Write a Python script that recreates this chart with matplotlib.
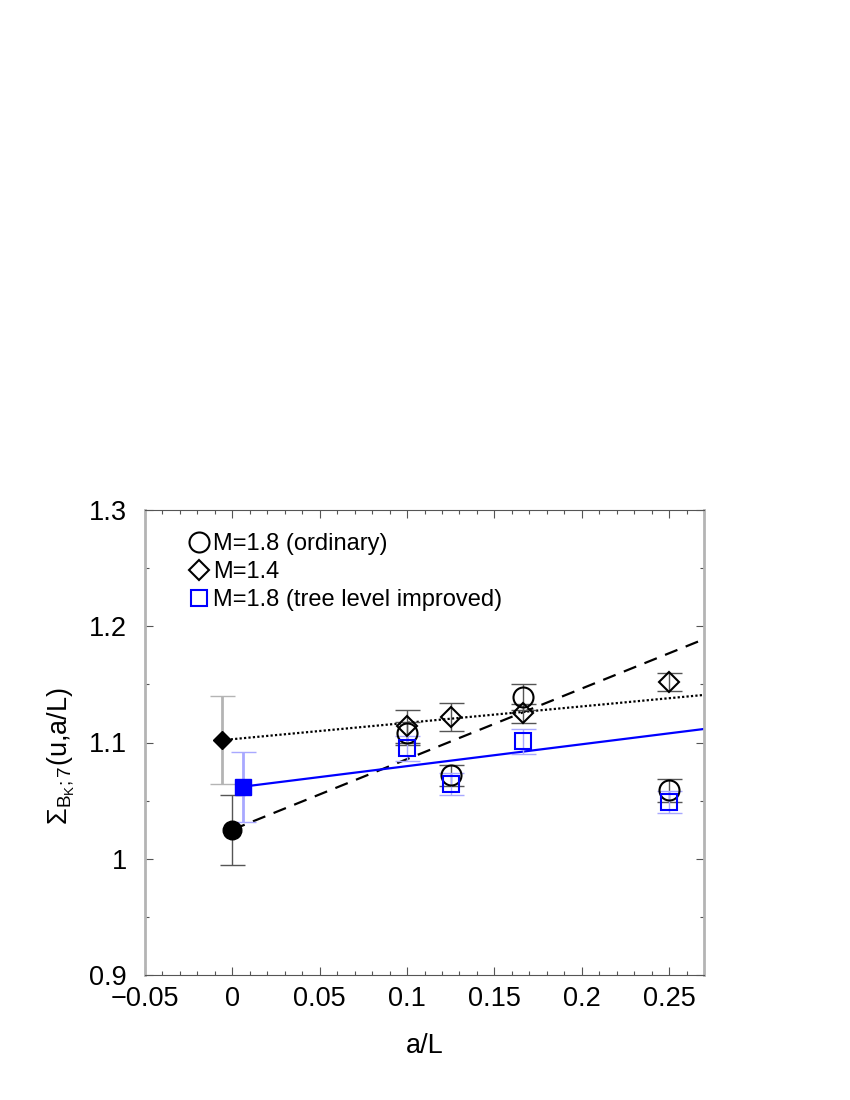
import numpy as np
import matplotlib
matplotlib.use("Agg")
import matplotlib.pyplot as plt
from matplotlib.ticker import MultipleLocator

plt.rcParams['font.family'] = ['Liberation Sans', 'DejaVu Sans']
plt.rcParams['mathtext.fontset'] = 'custom'
plt.rcParams['mathtext.rm'] = 'Liberation Sans'
plt.rcParams['mathtext.it'] = 'Liberation Sans'
plt.rcParams['mathtext.sf'] = 'Liberation Sans'

# data: a/L
x_data = [0.1, 0.125, 1/6, 0.25]

# M=1.8 (ordinary)
ord_y = [1.108, 1.072, 1.139, 1.059]
ord_err = [0.010, 0.009, 0.011, 0.010]
# M=1.4
m14_y = [1.114, 1.122, 1.125, 1.152]
m14_err = [0.014, 0.012, 0.008, 0.0075]
# M=1.8 (tree level improved)
tli_y = [1.095, 1.064, 1.101, 1.049]
tli_err = [0.0105, 0.0095, 0.011, 0.0095]

# continuum extrapolations (plotted with small horizontal offsets)
ext_x = {'ord': 0.0, 'm14': -0.006, 'tli': 0.006}
ext_y = {'ord': 1.025, 'm14': 1.102, 'tli': 1.062}
ext_err = {'ord': 0.030, 'm14': 0.038, 'tli': 0.030}
# fit slopes
fit_slope = {'ord': 0.607, 'm14': 0.141, 'tli': 0.188}

xmax = 0.27

fig = plt.figure(figsize=(8.5, 11), dpi=100)
ax = fig.add_axes([145/850, 1 - 975/1100, 559/850, 465/1100])

blue = '#0000ff'
lightblue = '#a8a8ff'
dgray = '#555555'
lgray = '#b4b4b4'

# fit lines
for key, ls, col, lw in [('ord', (0, (6, 4)), 'black', 1.6),
                         ('m14', (0, (1, 1)), 'black', 1.6),
                         ('tli', '-', blue, 1.6)]:
    xs = np.array([ext_x[key], xmax])
    ys = ext_y[key] + fit_slope[key] * (xs - ext_x[key])
    ax.plot(xs, ys, linestyle=ls, color=col, lw=lw, zorder=2)

cap = 9
# error bars for data
ax.errorbar(x_data, m14_y, yerr=m14_err, fmt='none', ecolor=dgray, elinewidth=1.0,
            capsize=cap, capthick=1.0, zorder=3)
ax.errorbar(x_data, ord_y, yerr=ord_err, fmt='none', ecolor=dgray, elinewidth=1.0,
            capsize=cap, capthick=1.0, zorder=3)
ax.errorbar(x_data, tli_y, yerr=tli_err, fmt='none', ecolor=lightblue, elinewidth=1.0,
            capsize=cap, capthick=1.0, zorder=3)

ax.plot(x_data, ord_y, 'o', ms=14.4, mfc='none', mec='black', mew=1.5, zorder=4,
        label='M=1.8 (ordinary)')
ax.plot(x_data, m14_y, 'D', ms=10, mfc='none', mec='black', mew=1.5, zorder=4,
        label='M=1.4')
ax.plot(x_data, tli_y, 's', ms=12, mfc='none', mec=blue, mew=1.5, zorder=4,
        label='M=1.8 (tree level improved)')

# extrapolated points
ax.errorbar([ext_x['m14']], [ext_y['m14']], yerr=[ext_err['m14']], fmt='none',
            ecolor=lgray, elinewidth=2.0, capsize=cap, capthick=1.0, zorder=3)
ax.errorbar([ext_x['ord']], [ext_y['ord']], yerr=[ext_err['ord']], fmt='none',
            ecolor=dgray, elinewidth=1.0, capsize=cap, capthick=1.0, zorder=3)
ax.errorbar([ext_x['tli']], [ext_y['tli']], yerr=[ext_err['tli']], fmt='none',
            ecolor=lightblue, elinewidth=2.0, capsize=cap, capthick=1.0, zorder=3)
ax.plot([ext_x['m14']], [ext_y['m14']], 'D', ms=9.5, color='black', zorder=5)
ax.plot([ext_x['ord']], [ext_y['ord']], 'o', ms=13.4, color='black', zorder=5)
ax.plot([ext_x['tli']], [ext_y['tli']], 's', ms=11.5, color=blue, zorder=5)

ax.set_xlim(-0.05, xmax)
ax.set_ylim(0.9, 1.3)
ax.xaxis.set_major_locator(MultipleLocator(0.05))
ax.xaxis.set_minor_locator(MultipleLocator(0.01))
ax.yaxis.set_major_locator(MultipleLocator(0.1))
ax.yaxis.set_minor_locator(MultipleLocator(0.05))
ax.set_xticks([-0.05, 0, 0.05, 0.1, 0.15, 0.2, 0.25])
ax.set_xticklabels(['\u22120.05', '0', '0.05', '0.1', '0.15', '0.2', '0.25'])
ax.set_yticks([0.9, 1.0, 1.1, 1.2, 1.3])
ax.set_yticklabels(['0.9', '1', '1.1', '1.2', '1.3'])
ax.tick_params(which='both', direction='in', top=True, right=True, labelsize=19.5,
               color=dgray)
ax.tick_params(axis='x', which='both', pad=8)
ax.tick_params(axis='y', which='both', pad=13)
ax.tick_params(which='major', length=6, width=0.8)
ax.tick_params(which='minor', length=3, width=0.8)
ax.spines['left'].set_color(lgray)
ax.spines['right'].set_color(lgray)
ax.spines['left'].set_linewidth(2)
ax.spines['right'].set_linewidth(2)
ax.spines['top'].set_color(dgray)
ax.spines['bottom'].set_color(dgray)

ax.set_xlabel('a/L', fontsize=19.5, labelpad=15)
ax.set_ylabel(r'$\Sigma_{\mathrm{B}_{\mathrm{K}};7}$(u,a/L)', fontsize=19.5)
ax.yaxis.set_label_coords(-0.121, 0.47)

ax.legend(loc='upper left', bbox_to_anchor=(0.06, 0.97), frameon=False, fontsize=17,
          handlelength=0.9, handletextpad=0.15, labelspacing=0.25, borderaxespad=0)

fig.savefig('out.png', dpi=100)
